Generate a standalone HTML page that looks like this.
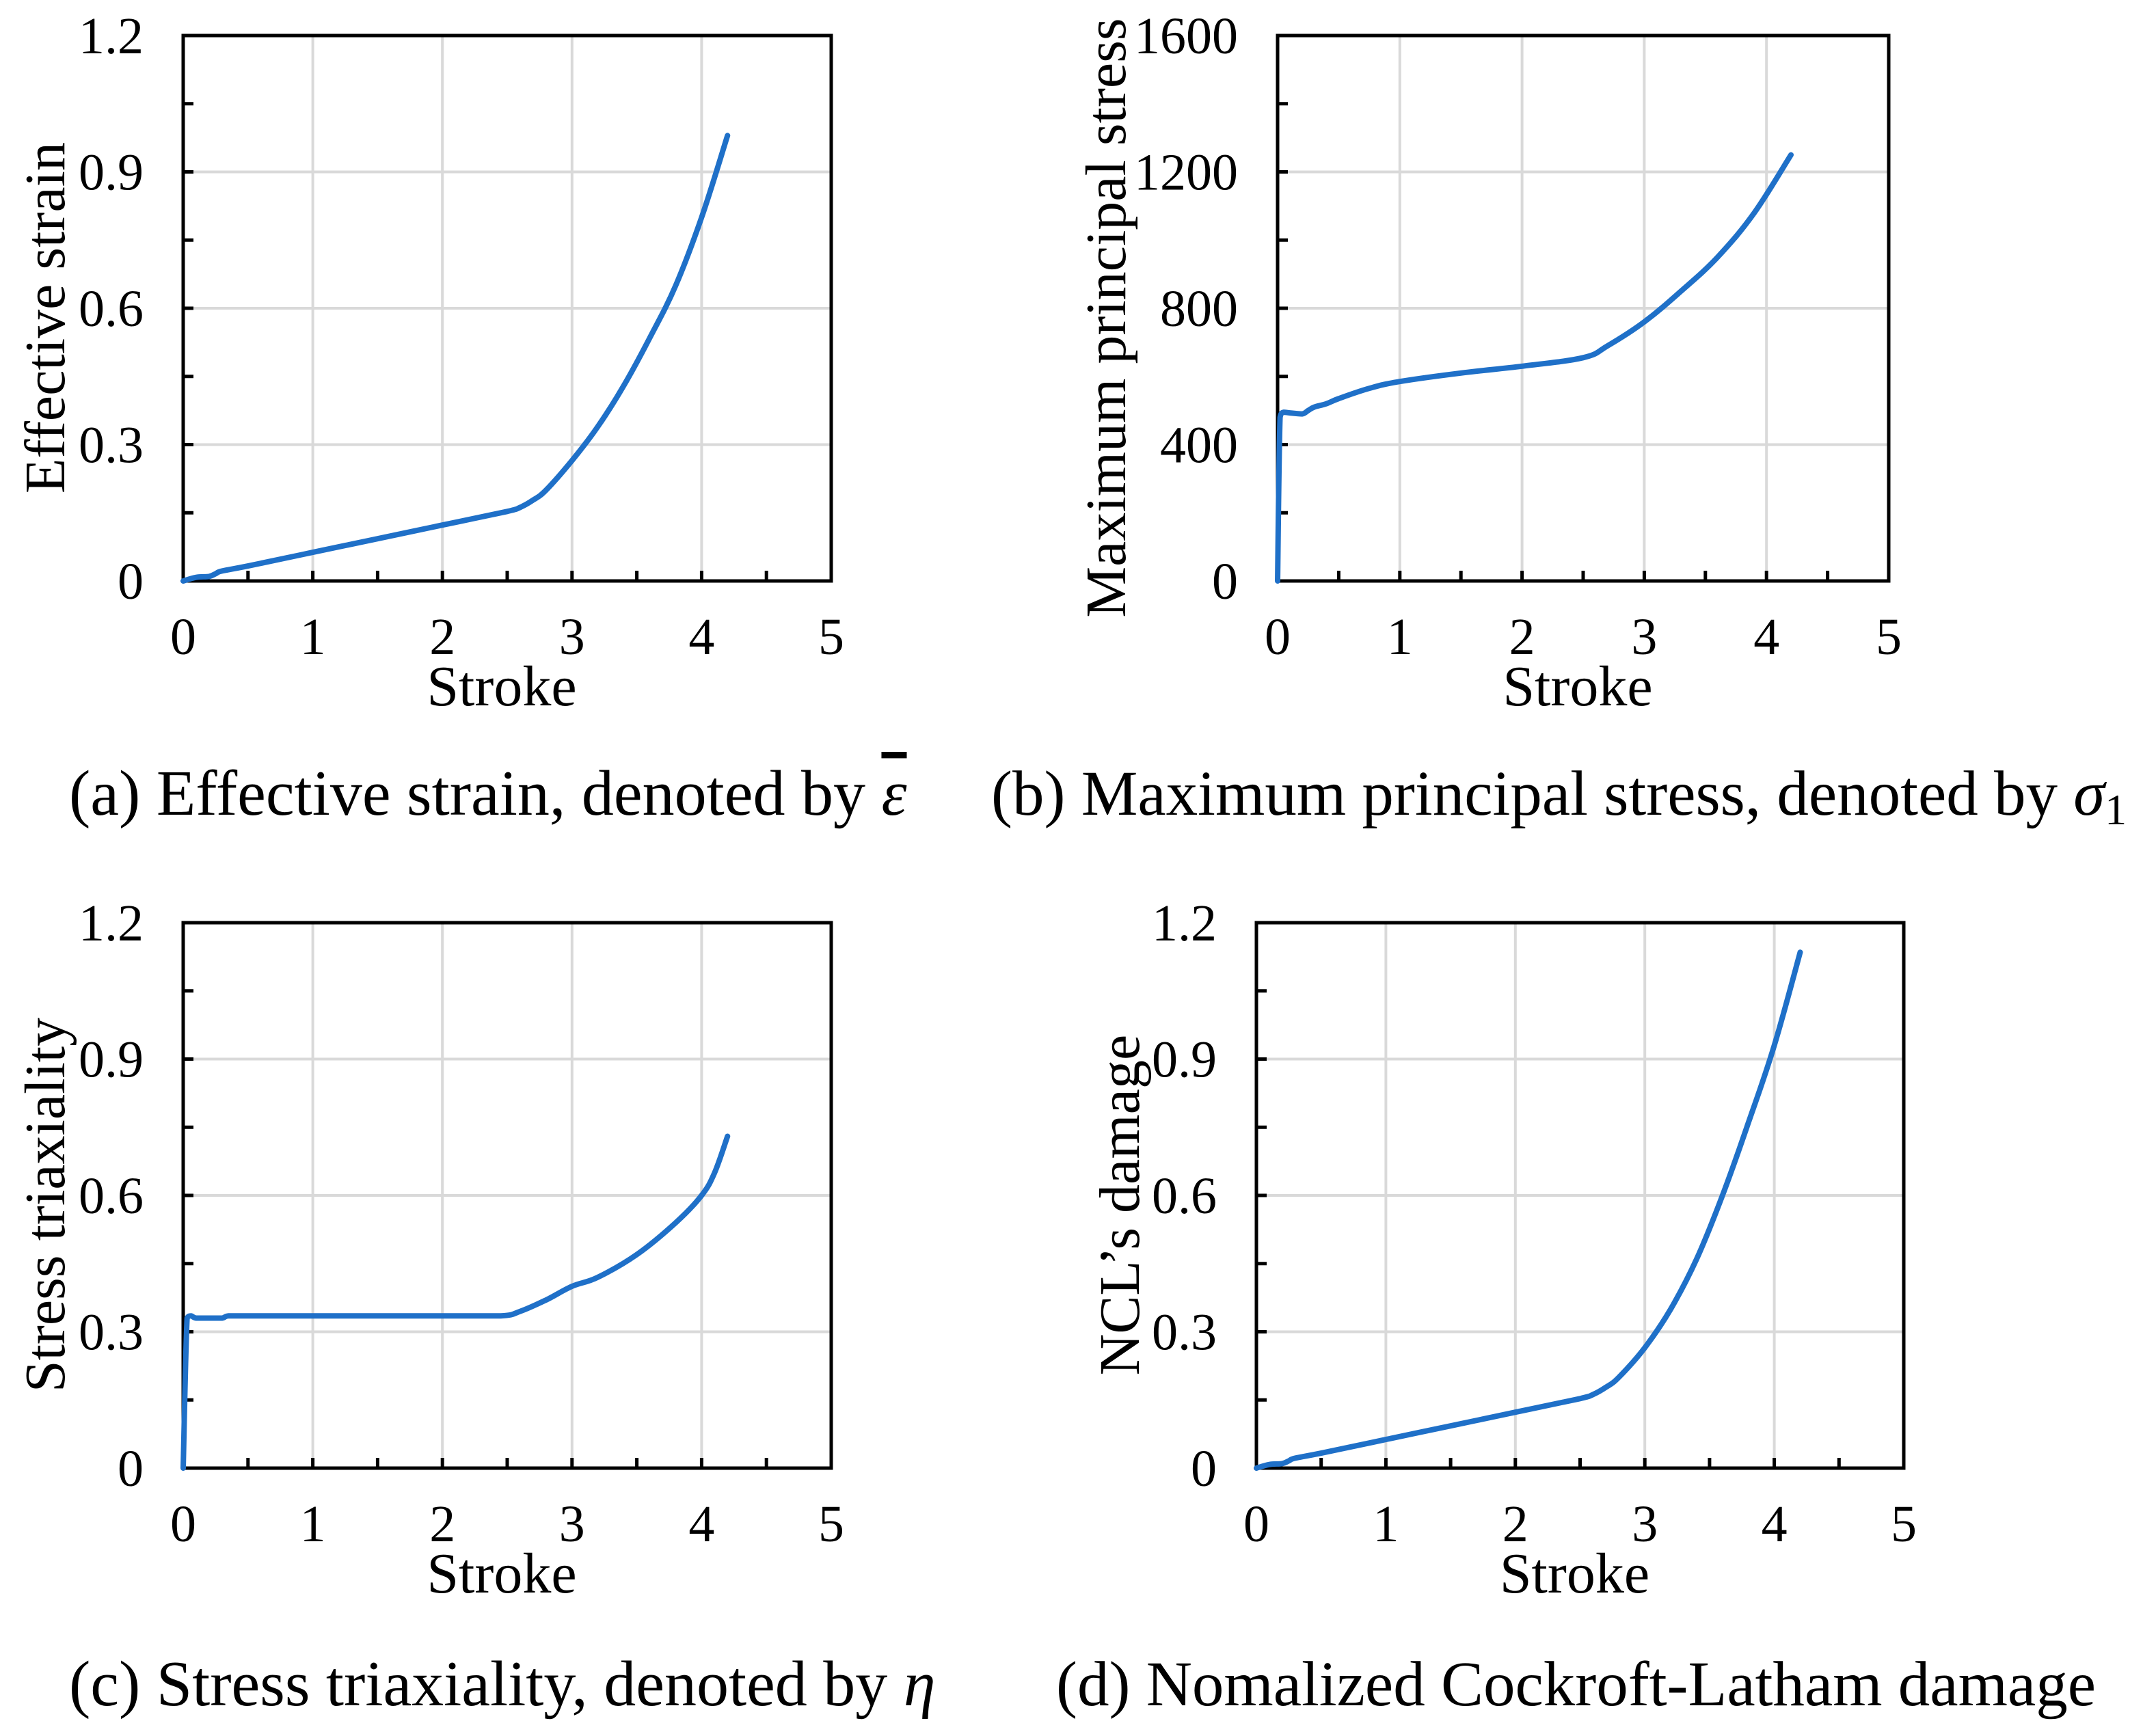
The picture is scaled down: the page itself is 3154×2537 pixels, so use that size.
<!DOCTYPE html>
<html><head><meta charset="utf-8"><style>
html,body{margin:0;padding:0;background:#fff;}
svg{display:block;font-family:"Liberation Serif",serif;}
</style></head><body>
<svg id="fig" width="3154" height="2537" viewBox="0 0 3154 2537" xmlns="http://www.w3.org/2000/svg">
<text x="101" y="1192" font-size="94">(a) Effective strain, denoted by <tspan font-style="italic" text-decoration="overline">ε</tspan></text>
<text x="1450" y="1192" font-size="93">(b) Maximum principal stress, denoted by <tspan font-style="italic">σ</tspan><tspan font-size="64" dy="14">1</tspan></text>
<text x="101" y="2495" font-size="94">(c) Stress triaxiality, denoted by <tspan font-style="italic">η</tspan></text>
<text x="1545" y="2495" font-size="93">(d) Nomalized Cockroft-Latham damage</text>
</svg>
<script>
const strokeA=[0,0.1,0.2,0.25,0.3,0.5,1,1.5,2,2.5,2.6,2.7,2.8,3,3.2,3.4,3.6,3.8,4,4.2];
const strainA=[0,0.008,0.01,0.016,0.022,0.033,0.063,0.093,0.123,0.153,0.162,0.178,0.2,0.265,0.34,0.43,0.535,0.65,0.8,0.98];
const strokeB=[0,0.02,0.05,0.1,0.2,0.25,0.3,0.4,0.5,0.75,1,1.5,2,2.5,2.7,3,3.3,3.6,3.9,4.2];
const stressB=[0,480,495,493,490,500,510,520,535,565,585,610,630,655,690,760,850,950,1080,1250];
const strokeC=[0,0.03,0.06,0.1,0.2,0.3,0.35,0.5,1,2,2.45,2.6,2.8,3,3.2,3.5,3.8,4,4.1,4.2];
const triaxC=[0,0.33,0.335,0.33,0.33,0.33,0.335,0.335,0.335,0.335,0.335,0.345,0.37,0.4,0.42,0.47,0.54,0.6,0.65,0.73];
const strokeD=[0,0.1,0.2,0.25,0.3,0.5,1,1.5,2,2.5,2.6,2.7,2.8,3,3.2,3.4,3.6,3.8,4,4.2];
const damageD=[0,0.008,0.01,0.016,0.022,0.033,0.063,0.093,0.123,0.153,0.162,0.178,0.2,0.265,0.35,0.46,0.6,0.76,0.93,1.135];
const xTicks=["0","1","2","3","4","5"];
const yTicks12=["0","0.3","0.6","0.9","1.2"];
const yTicks1600=["0","400","800","1200","1600"];

const NS="http://www.w3.org/2000/svg";
const svg=document.getElementById('fig');
function mk(tag,attrs,parent){const e=document.createElementNS(NS,tag);for(const k in attrs)e.setAttribute(k,attrs[k]);(parent||svg).appendChild(e);return e;}
function clamp(v,a,b){const lo=Math.min(a,b),hi=Math.max(a,b);return Math.max(lo,Math.min(hi,v));}
function smoothPath(P){
  let d='M'+P[0][0].toFixed(1)+' '+P[0][1].toFixed(1);
  for(let i=0;i<P.length-1;i++){
    const p0=P[Math.max(i-1,0)],p1=P[i],p2=P[i+1],p3=P[Math.min(i+2,P.length-1)];
    const t=0.18;
    const c1=[clamp(p1[0]+(p2[0]-p0[0])*t,p1[0],p2[0]),clamp(p1[1]+(p2[1]-p0[1])*t,p1[1],p2[1])];
    const c2=[clamp(p2[0]-(p3[0]-p1[0])*t,p1[0],p2[0]),clamp(p2[1]-(p3[1]-p1[1])*t,p1[1],p2[1])];
    d+=` C${c1[0].toFixed(1)} ${c1[1].toFixed(1)} ${c2[0].toFixed(1)} ${c2[1].toFixed(1)} ${p2[0].toFixed(1)} ${p2[1].toFixed(1)}`;
  }
  return d;
}

function panel(id,L,T,R,B,ymax,yLabels,xs,ys,ytitle,ytitleX){
  const g=mk('g',{});
  
  
  const sx=v=>L+(R-L)*v/5, sy=v=>B-(B-T)*v/ymax;
  for(let i=1;i<5;i++){
    const gl=mk('line',{x1:sx(i),x2:sx(i),y1:T,y2:B,stroke:'#d9d9d9','stroke-width':4},g);
    
    
  }
  for(let i=1;i<4;i++){
    const v=ymax*i/4;
    const gl=mk('line',{x1:L,x2:R,y1:sy(v),y2:sy(v),stroke:'#d9d9d9','stroke-width':4},g);
    
    
  }
  for(let i=1;i<10;i++){mk('line',{x1:sx(i*0.5),x2:sx(i*0.5),y1:B,y2:B-15,stroke:'#000','stroke-width':5},g);}
  for(let i=1;i<8;i++){mk('line',{x1:L,x2:L+15,y1:sy(ymax*i/8),y2:sy(ymax*i/8),stroke:'#000','stroke-width':5},g);}
  const fr=mk('rect',{x:L,y:T,width:R-L,height:B-T,fill:'none',stroke:'#000','stroke-width':5},g);
  
  
  xTicks.forEach((t,i)=>{
    const tx=mk('text',{x:sx(i),y:B+107,'font-size':76,'text-anchor':'middle'},g);tx.textContent=t;
    
    
  });
  yLabels.forEach((t,i)=>{
    const tx=mk('text',{x:L-58,y:sy(ymax*i/4)+26,'font-size':76,'text-anchor':'end'},g);tx.textContent=t;
    
    
  });
  const xt=mk('text',{x:(L+R)/2-8,y:B+182,'font-size':84,'text-anchor':'middle'},g);xt.textContent='Stroke';
  
  
  const cy=(T+B)/2+14;
  const yt=mk('text',{x:ytitleX,y:cy,'font-size':84,'text-anchor':'middle',transform:`rotate(-90 ${ytitleX} ${cy})`},g);yt.textContent=ytitle;
  
  
  const P=xs.map((x,i)=>[sx(x),sy(ys[i])]);
  const p=mk('path',{d:smoothPath(P),fill:'none',stroke:'#1f70c8','stroke-width':8,'stroke-linejoin':'round','stroke-linecap':'round'},g);
  
  
}
panel('a',268,52,1216,850,1.2,yTicks12,strokeA,strainA,'Effective strain',94);
panel('b',1869,52,2763,850,1600,yTicks1600,strokeB,stressB,'Maximum principal stress',1646);
panel('c',268,1350,1216,2148,1.2,yTicks12,strokeC,triaxC,'Stress triaxiality',94);
panel('d',1838,1350,2785,2148,1.2,yTicks12,strokeD,damageD,'NCL\u2019s damage',1666);
</script>
</body></html>
